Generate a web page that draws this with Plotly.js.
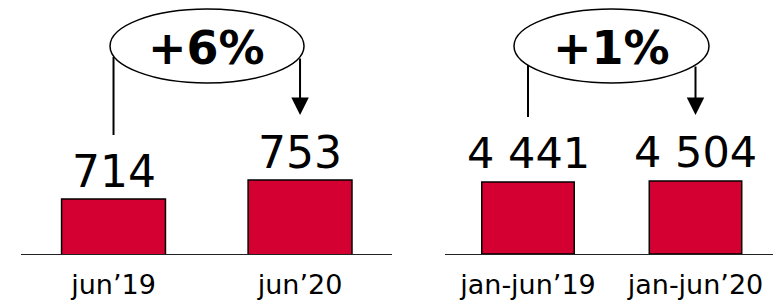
<!DOCTYPE html>
<html>
<head>
<meta charset="utf-8">
<script src="https://cdn.plot.ly/plotly-3.0.1.min.js"></script>
<style>html,body{margin:0;padding:0;background:#fff;}#chart{width:773px;height:301px;}</style>
</head>
<body>
<div id="chart"></div>
<script>
// Data
const monthCategories = ['jun’19', 'jun’20'];
const monthValues = [714, 753];
const monthLabels = ['714', '753'];
const monthChange = '+6%';

const ytdCategories = ['jan-jun’19', 'jan-jun’20'];
const ytdValues = [4441, 4504];
const ytdLabels = ['4 441', '4 504'];
const ytdChange = '+1%';

const BAR = '#D40032';
const FONT = 'DejaVu Sans, Verdana, sans-serif';

const traces = [
  {type: 'bar', x: monthCategories, y: monthValues, xaxis: 'x', yaxis: 'y', width: 0.557,
   marker: {color: BAR, line: {color: '#000', width: 1.5}}, hoverinfo: 'none'},
  {type: 'bar', x: ytdCategories, y: ytdValues, xaxis: 'x2', yaxis: 'y2', width: 0.552,
   marker: {color: BAR, line: {color: '#000', width: 1.5}}, hoverinfo: 'none'}
];

const annotations = [];
monthCategories.forEach((c, i) => annotations.push({xref: 'x', yref: 'y', x: c, y: monthValues[i],
  text: monthLabels[i], showarrow: false, xanchor: 'center', yanchor: 'bottom', yshift: 0,
  font: {family: FONT, size: 44, color: '#000'}}));
ytdCategories.forEach((c, i) => annotations.push({xref: 'x2', yref: 'y2', x: c, y: ytdValues[i],
  text: ytdLabels[i], showarrow: false, xanchor: 'center', yanchor: 'bottom', yshift: 2,
  font: {family: FONT, size: 43, color: '#000'}}));
// change labels
annotations.push({xref: 'x', yref: 'paper', x: 0.5, y: 1 - 48/254, xanchor: 'center', yanchor: 'middle',
  text: '<b>' + monthChange + '</b>', showarrow: false, font: {family: FONT, size: 46, color: '#000'}});
annotations.push({xref: 'x2', yref: 'paper', x: 0.5, y: 1 - 48/254, xanchor: 'center', yanchor: 'middle',
  text: '<b>' + ytdChange + '</b>', showarrow: false, font: {family: FONT, size: 46, color: '#000'}});
// arrows
annotations.push({xref: 'x', yref: 'paper', x: 1, y: 1 - 115/254, text: '', showarrow: true,
  ax: 0, ay: -58, arrowhead: 2, arrowsize: 1.75, arrowwidth: 2, arrowcolor: '#000'});
annotations.push({xref: 'x2', yref: 'paper', x: 1, y: 1 - 115/254, text: '', showarrow: true,
  ax: 0, ay: -50, arrowhead: 2, arrowsize: 1.75, arrowwidth: 2, arrowcolor: '#000'});

const shapes = [
  {type: 'circle', xref: 'x', yref: 'paper', x0: -0.0188, x1: 1.0214, y0: 1 - 83/254, y1: 1 - 9/254,
   line: {color: '#000', width: 1.5}, fillcolor: 'rgba(0,0,0,0)'},
  {type: 'circle', xref: 'x2', yref: 'paper', x0: -0.0836, x1: 1.0806, y0: 1 - 83/254, y1: 1 - 9/254,
   line: {color: '#000', width: 1.5}, fillcolor: 'rgba(0,0,0,0)'},
  {type: 'line', xref: 'x', yref: 'paper', x0: 0, x1: 0, y0: 1 - 57/254, y1: 1 - 135/254,
   line: {color: '#000', width: 2}},
  {type: 'line', xref: 'x2', yref: 'paper', x0: 0, x1: 0, y0: 1 - 65/254, y1: 1 - 117/254,
   line: {color: '#000', width: 2}}
];

const axX = {type: 'category', showgrid: false, zeroline: false, showline: true, linecolor: '#222', linewidth: 1.3,
  ticks: '', ticklabelstandoff: 6, tickfont: {family: FONT, size: 27, color: '#000'}, fixedrange: true};
const layout = {
  width: 773, height: 301,
  margin: {l: 0, r: 0, t: 0, b: 47, pad: 0},
  paper_bgcolor: '#fff', plot_bgcolor: '#fff',
  showlegend: false,
  xaxis: Object.assign({}, axX, {domain: [21/773, 392/773], range: [-0.496, 1.493], anchor: 'y'}),
  xaxis2: Object.assign({}, axX, {domain: [445/773, 1], range: [-0.4955, 1.4627], anchor: 'y2'}),
  yaxis: {range: [601.1, 1122.5], visible: false, fixedrange: true, anchor: 'x'},
  yaxis2: {range: [0, 15669], visible: false, fixedrange: true, anchor: 'x2'},
  annotations: annotations,
  shapes: shapes
};
Plotly.newPlot('chart', traces, layout, {staticPlot: true, displayModeBar: false});
</script>
</body>
</html>
